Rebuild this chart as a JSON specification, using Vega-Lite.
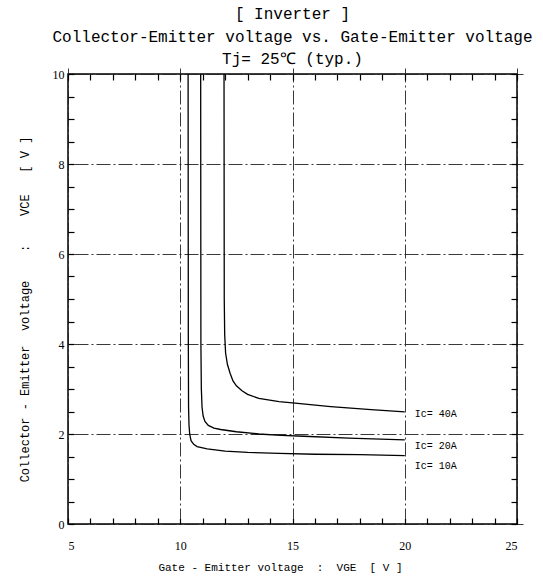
{
  "$schema": "https://vega.github.io/schema/vega-lite/v6.json",
  "width": 449,
  "height": 450,
  "autosize": {"type": "none"},
  "padding": {"left": 68, "top": 74, "right": 26, "bottom": 55},
  "background": "white",
  "title": {
    "text": ["[ Inverter ]", "Collector-Emitter voltage  vs. Gate-Emitter voltage", "Tj= 25℃  (typ.)"],
    "font": "Liberation Mono",
    "fontSize": 16,
    "fontWeight": "normal",
    "lineHeight": 22.5,
    "offset": 1,
    "anchor": "middle",
    "color": "black"
  },
  "config": {
    "view": {"stroke": "black", "strokeWidth": 1.5},
    "axis": {
      "domain": false,
      "labelFont": "Liberation Serif",
      "labelFontSize": 12,
      "labelColor": "black",
      "tickColor": "black",
      "tickWidth": 1.2,
      "tickSize": 6,
      "offset": -6,
      "gridColor": "#222",
      "gridWidth": 0.9,
      "gridDash": [14, 3, 2, 3],
      "titleFont": "Liberation Mono",
      "titleFontSize": 11,
      "titleFontWeight": "normal",
      "titleColor": "black"
    }
  },
  "datasets": {
    "curves": [
      {"ic": "10A", "i": 0, "vge": 10.35, "vce": 10},
      {"ic": "10A", "i": 1, "vge": 10.36, "vce": 4},
      {"ic": "10A", "i": 2, "vge": 10.37, "vce": 2.6},
      {"ic": "10A", "i": 3, "vge": 10.39, "vce": 2.2},
      {"ic": "10A", "i": 4, "vge": 10.42, "vce": 2.0},
      {"ic": "10A", "i": 5, "vge": 10.48, "vce": 1.85},
      {"ic": "10A", "i": 6, "vge": 10.6, "vce": 1.77},
      {"ic": "10A", "i": 7, "vge": 10.75, "vce": 1.72},
      {"ic": "10A", "i": 8, "vge": 11.2, "vce": 1.67},
      {"ic": "10A", "i": 9, "vge": 12.0, "vce": 1.62},
      {"ic": "10A", "i": 10, "vge": 13.0, "vce": 1.59},
      {"ic": "10A", "i": 11, "vge": 14.4, "vce": 1.57},
      {"ic": "10A", "i": 12, "vge": 16.0, "vce": 1.55},
      {"ic": "10A", "i": 13, "vge": 18.0, "vce": 1.54},
      {"ic": "10A", "i": 14, "vge": 20.0, "vce": 1.52},
      {"ic": "20A", "i": 0, "vge": 10.91, "vce": 10},
      {"ic": "20A", "i": 1, "vge": 10.92, "vce": 4},
      {"ic": "20A", "i": 2, "vge": 10.94, "vce": 3.0},
      {"ic": "20A", "i": 3, "vge": 10.97, "vce": 2.6},
      {"ic": "20A", "i": 4, "vge": 11.02, "vce": 2.4},
      {"ic": "20A", "i": 5, "vge": 11.1, "vce": 2.28},
      {"ic": "20A", "i": 6, "vge": 11.25, "vce": 2.19},
      {"ic": "20A", "i": 7, "vge": 11.5, "vce": 2.13},
      {"ic": "20A", "i": 8, "vge": 11.8, "vce": 2.1},
      {"ic": "20A", "i": 9, "vge": 12.5, "vce": 2.05},
      {"ic": "20A", "i": 10, "vge": 13.5, "vce": 2.0},
      {"ic": "20A", "i": 11, "vge": 14.5, "vce": 1.97},
      {"ic": "20A", "i": 12, "vge": 15.5, "vce": 1.95},
      {"ic": "20A", "i": 13, "vge": 17.5, "vce": 1.91},
      {"ic": "20A", "i": 14, "vge": 20.0, "vce": 1.87},
      {"ic": "40A", "i": 0, "vge": 11.95, "vce": 10},
      {"ic": "40A", "i": 1, "vge": 11.96, "vce": 5},
      {"ic": "40A", "i": 2, "vge": 11.98, "vce": 4.2},
      {"ic": "40A", "i": 3, "vge": 12.02, "vce": 3.8},
      {"ic": "40A", "i": 4, "vge": 12.1, "vce": 3.55},
      {"ic": "40A", "i": 5, "vge": 12.22, "vce": 3.35},
      {"ic": "40A", "i": 6, "vge": 12.35, "vce": 3.18},
      {"ic": "40A", "i": 7, "vge": 12.5, "vce": 3.07},
      {"ic": "40A", "i": 8, "vge": 12.75, "vce": 2.96},
      {"ic": "40A", "i": 9, "vge": 13.0, "vce": 2.88},
      {"ic": "40A", "i": 10, "vge": 13.5, "vce": 2.79},
      {"ic": "40A", "i": 11, "vge": 14.4, "vce": 2.72},
      {"ic": "40A", "i": 12, "vge": 15.0, "vce": 2.69},
      {"ic": "40A", "i": 13, "vge": 16.7, "vce": 2.61},
      {"ic": "40A", "i": 14, "vge": 18.5, "vce": 2.54},
      {"ic": "40A", "i": 15, "vge": 20.0, "vce": 2.49}
    ],
    "labels": [
      {"label": "Ic= 40A", "vge": 20.45, "vce": 2.45},
      {"label": "Ic= 20A", "vge": 20.45, "vce": 1.73},
      {"label": "Ic= 10A", "vge": 20.45, "vce": 1.29}
    ]
  },
  "layer": [
    {
      "data": {"name": "curves"},
      "mark": {"type": "line", "color": "black", "strokeWidth": 1.3},
      "encoding": {
        "x": {
          "field": "vge", "type": "quantitative",
          "scale": {"domain": [5, 25], "nice": false, "zero": false},
          "axis": {
            "orient": "bottom",
            "values": [5,6,7,8,9,10,11,12,13,14,15,16,17,18,19,20,21,22,23,24,25],
            "labelExpr": "datum.value % 5 === 0 ? format(datum.value, 'd') : ''",
            "labelPadding": 16,
            "grid": true,
            "gridOpacity": {"condition": {"test": "datum.value % 5 === 0", "value": 1}, "value": 0},
            "title": "Gate - Emitter voltage \u00a0:\u00a0 VGE \u00a0[ V ]",
            "titleX": 212,
            "titleY": 49,
            "titleBaseline": "middle"
          }
        },
        "y": {
          "field": "vce", "type": "quantitative",
          "scale": {"domain": [0, 10], "nice": false, "zero": false},
          "axis": {
            "orient": "left",
            "values": [0,0.5,1,1.5,2,2.5,3,3.5,4,4.5,5,5.5,6,6.5,7,7.5,8,8.5,9,9.5,10],
            "labelExpr": "datum.value % 2 === 0 ? format(datum.value, 'd') : ''",
            "labelPadding": 4,
            "grid": true,
            "gridOpacity": {"condition": {"test": "datum.value % 2 === 0", "value": 1}, "value": 0},
            "title": "Collector - Emitter\u00a0 voltage \u00a0\u00a0 : \u00a0\u00a0 VCE \u00a0\u00a0[ V ]",
            "titleFontSize": 12,
            "titleX": -50,
            "titleY": 235,
            "titleAngle": -90,
            "titleAlign": "center",
            "titleBaseline": "middle"
          }
        },
        "detail": {"field": "ic"},
        "order": {"field": "i", "type": "quantitative"}
      }
    },
    {
      "data": {"name": "labels"},
      "mark": {"type": "text", "align": "left", "baseline": "middle", "font": "Liberation Mono", "fontSize": 10, "color": "black"},
      "encoding": {
        "x": {
          "field": "vge", "type": "quantitative",
          "axis": {
            "orient": "top",
            "values": [5,6,7,8,9,10,11,12,13,14,15,16,17,18,19,20,21,22,23,24,25],
            "labels": false,
            "grid": false,
            "title": null
          }
        },
        "y": {
          "field": "vce", "type": "quantitative",
          "axis": {
            "orient": "right",
            "values": [0,0.5,1,1.5,2,2.5,3,3.5,4,4.5,5,5.5,6,6.5,7,7.5,8,8.5,9,9.5,10],
            "labels": false,
            "grid": false,
            "title": null
          }
        },
        "text": {"field": "label"}
      }
    }
  ],
  "resolve": {"axis": {"x": "independent", "y": "independent"}}
}
